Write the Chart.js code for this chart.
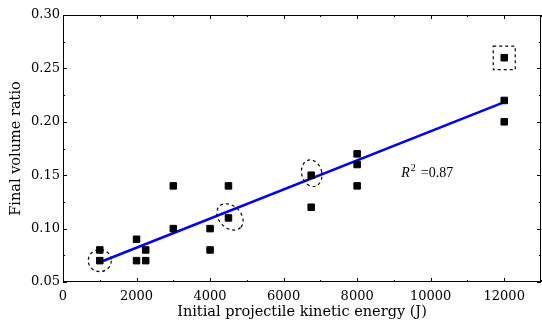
<!DOCTYPE html>
<html>
<head>
<meta charset="utf-8">
<script src="https://cdn.jsdelivr.net/npm/chart.js@4.4.1/dist/chart.umd.min.js"></script>
<style>
  html, body { margin: 0; padding: 0; background: #fff; overflow: hidden; }
  #wrap { width: 542px; height: 325px; position: relative; }
</style>
</head>
<body>
<div id="wrap"><canvas id="chart"></canvas></div>
<script>
// measured points (energy J, final volume ratio)
const energy = [1000, 1000, 2000, 2000, 2250, 2250, 3000, 3000, 4000, 4000,
                4500, 4500, 6750, 6750, 8000, 8000, 8000, 12000, 12000, 12000]
const volRatio = [0.08, 0.07, 0.09, 0.07, 0.08, 0.07, 0.14, 0.10, 0.10, 0.08,
                  0.14, 0.11, 0.15, 0.12, 0.17, 0.16, 0.14, 0.26, 0.22, 0.20]

// linear fit end points
const fitX = [1000, 12000]
const fitY = [0.0685, 0.2185]

// tick labels
const xTicks = [0, 2000, 4000, 6000, 8000, 10000, 12000]
const yTicks = [0.05, 0.10, 0.15, 0.20, 0.25, 0.30]

// dashed highlights around some points
const hlX = [1000, 4500, 6750, 12000]
const hlY = [0.07, 0.11, 0.15, 0.26]
const hlShape = ['circle', 'tilted', 'oval', 'square']

const r2Label = { x: 9200, y: 0.148, value: '=0.87' }

const serif = 'DejaVu Serif'

const points = energy.map((e, i) => ({ x: e, y: volRatio[i] }))
const fitLine = fitX.map((e, i) => ({ x: e, y: fitY[i] }))

// inside ticks on all four sides, like matplotlib classic
const insideTicks = {
    id: 'insideTicks',
    afterDraw(chart) {
        const ctx = chart.ctx
        const a = chart.chartArea
        const xs = chart.scales.x, ys = chart.scales.y
        ctx.save()
        ctx.strokeStyle = '#000'
        ctx.lineWidth = 1
        ctx.beginPath()
        for (let v = 0; v <= 13000; v += 1000) {
            const px = Math.round(xs.getPixelForValue(v)) + 0.5
            const len = v % 2000 === 0 ? 4 : 2
            ctx.moveTo(px, a.bottom); ctx.lineTo(px, a.bottom - len)
            ctx.moveTo(px, a.top); ctx.lineTo(px, a.top + len)
        }
        for (let k = 0; k <= 10; k++) {
            const v = 0.05 + k * 0.025
            const py = Math.round(ys.getPixelForValue(v)) + 0.5
            const len = k % 2 === 0 ? 4 : 2
            ctx.moveTo(a.left, py); ctx.lineTo(a.left + len, py)
            ctx.moveTo(a.right, py); ctx.lineTo(a.right - len, py)
        }
        ctx.stroke()
        ctx.strokeRect(a.left + 0.5, a.top + 0.5, a.right - a.left - 1, a.bottom - a.top - 1)
        ctx.restore()
    }
}

const highlights = {
    id: 'highlights',
    afterDatasetsDraw(chart) {
        const ctx = chart.ctx
        const xs = chart.scales.x, ys = chart.scales.y
        ctx.save()
        ctx.strokeStyle = '#000'
        ctx.lineWidth = 1.2
        ctx.setLineDash([3, 3])
        hlX.forEach((v, i) => {
            const cx = xs.getPixelForValue(v)
            const cy = ys.getPixelForValue(hlY[i])
            ctx.beginPath()
            if (hlShape[i] === 'circle') {
                ctx.ellipse(cx, cy, 11.5, 11, 0, 0, Math.PI * 2)
            } else if (hlShape[i] === 'tilted') {
                ctx.ellipse(cx + 1.5, cy - 1, 15, 11, Math.PI / 4, 0, Math.PI * 2)
            } else if (hlShape[i] === 'oval') {
                ctx.ellipse(cx + 0.5, cy - 2, 10, 13.5, -0.25, 0, Math.PI * 2)
            } else {
                ctx.rect(cx - 11, cy - 11.5, 22, 23.5)
            }
            ctx.stroke()
        })
        ctx.setLineDash([])

        // R^2 annotation
        let px = xs.getPixelForValue(r2Label.x)
        const py = ys.getPixelForValue(r2Label.y)
        ctx.fillStyle = '#000'
        ctx.textBaseline = 'alphabetic'
        ctx.textAlign = 'left'
        ctx.font = 'italic 14px "Liberation Serif"'
        ctx.fillText('R', px, py)
        px += ctx.measureText('R').width + 1
        ctx.font = '10px "Liberation Serif"'
        ctx.fillText('2', px, py - 6)
        px += ctx.measureText('2').width + 5
        ctx.font = '14px "Liberation Serif"'
        ctx.fillText(r2Label.value, px, py)
        ctx.restore()
    }
}

new Chart(document.getElementById('chart'), {
    type: 'scatter',
    data: {
        datasets: [{
            label: 'fit',
            data: fitLine,
            showLine: true,
            borderColor: '#0000ff',
            borderWidth: 2.5,
            pointRadius: 0,
            order: 2
        }, {
            label: 'data',
            data: points,
            pointStyle: 'rect',
            pointRadius: 4.6,
            backgroundColor: '#000',
            borderColor: '#000',
            borderWidth: 1,
            order: 1
        }]
    },
    options: {
        responsive: true,
        maintainAspectRatio: false,
        animation: false,
        layout: { autoPadding: false, padding: { left: 0, right: 1, top: 15, bottom: 0 } },
        plugins: { legend: { display: false }, tooltip: { enabled: false } },
        scales: {
            x: {
                type: 'linear',
                min: 0, max: 13000,
                grid: { display: false, drawTicks: false },
                border: { display: false },
                afterBuildTicks: s => { s.ticks = xTicks.map(v => ({ value: v })) },
                ticks: { color: '#000', padding: 7, autoSkip: false, maxRotation: 0,
                         font: { family: serif, size: 13 },
                         callback: v => String(v) },
                title: { display: true, text: 'Initial projectile kinetic energy (J)', color: '#000',
                         font: { family: serif, size: 14.5 }, padding: { top: 0, bottom: 4 } },
                afterFit: s => { s.height = 43; s.paddingRight = 0; s.paddingLeft = 0 }
            },
            y: {
                min: 0.05, max: 0.30,
                grid: { display: false, drawTicks: false },
                border: { display: false },
                afterBuildTicks: s => { s.ticks = yTicks.map(v => ({ value: v })) },
                ticks: { color: '#000', padding: 3, autoSkip: false,
                         font: { family: serif, size: 13 },
                         callback: v => v.toFixed(2) },
                title: { display: true, text: 'Final volume ratio', color: '#000',
                         font: { family: serif, size: 14.5 }, padding: { top: 8, bottom: 0 } },
                afterFit: s => { s.width = 63 }
            }
        }
    },
    plugins: [insideTicks, highlights]
})
</script>
</body>
</html>
